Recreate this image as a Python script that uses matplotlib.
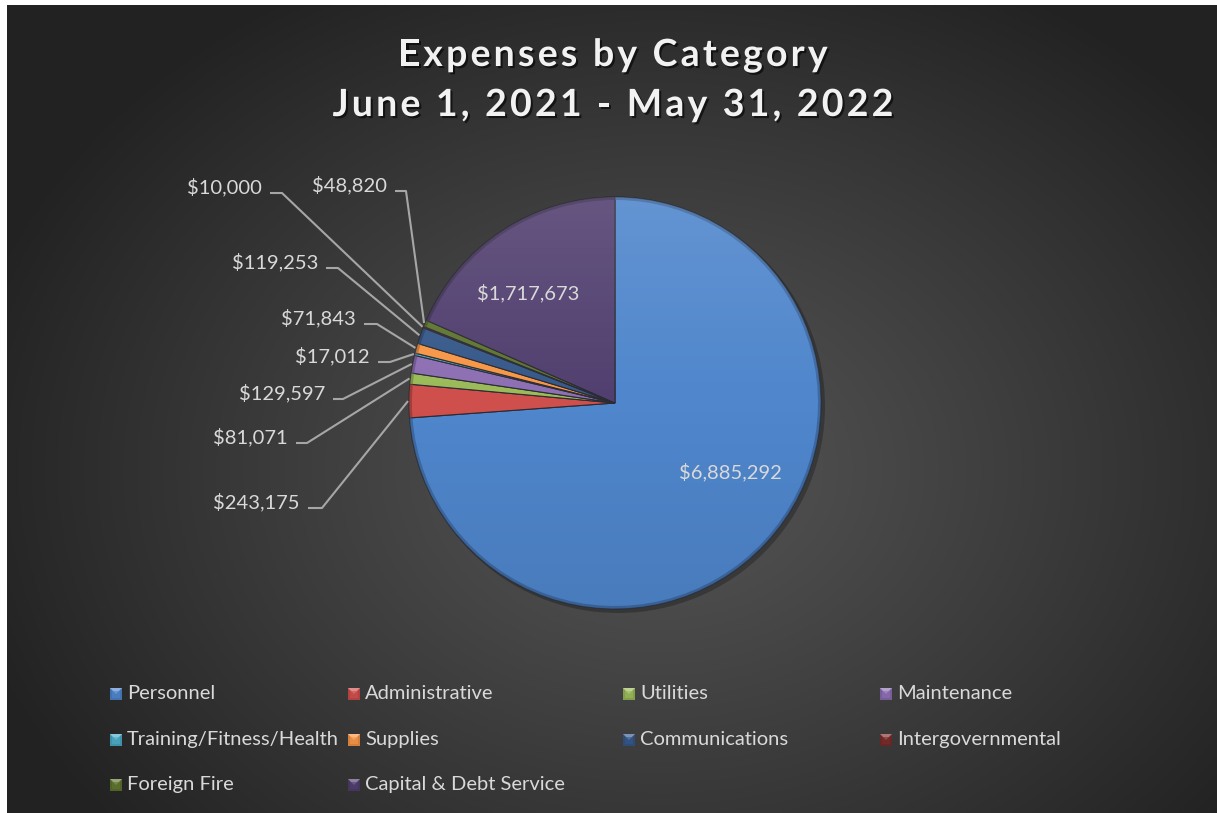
import numpy as np
import matplotlib.pyplot as plt
import matplotlib.patheffects as pe
from matplotlib.patches import Circle, Rectangle, Polygon
from matplotlib.colors import to_rgb

plt.rcParams['font.family'] = ['Lato', 'DejaVu Sans']

W, H = 1217, 813

# expense categories and amounts (USD)
categories = ["Personnel", "Administrative", "Utilities", "Maintenance",
              "Training/Fitness/Health", "Supplies", "Communications",
              "Intergovernmental", "Foreign Fire", "Capital & Debt Service"]
amounts = [6885292, 243175, 81071, 129597, 17012, 71843, 119253, 10000, 48820, 1717673]
colors = ["#4f86cc", "#cf4f4c", "#9bbb59", "#8d6fb3", "#4bacc6", "#f79646",
          "#36598a", "#7a2d2b", "#5f7530", "#513f6f"]

title_lines = ["Expenses by Category", "June 1, 2021 - May 31, 2022"]

# layout, given in pixel coords with y measured from the top
PIE_CX, PIE_CY, PIE_R = 615, 403, 206
# outside labels: index -> (text right edge, leader y, elbow x)
outside = {1: (300, 508, 322), 2: (288, 443, 307), 3: (325, 399, 343),
           4: (370, 362, 390), 5: (356, 324, 377), 6: (318, 268, 338),
           7: (262, 193, 282), 8: (387, 191, 406)}
inside = {0: (730, 472), 9: (528, 293)}
leg_cols = [110, 348, 623, 880]
leg_rows = [694, 740, 785]

TXT = "#d9d9d9"


def Y(y):
    return H - y


def mix(c, other, t):
    a = np.array(to_rgb(c))
    b = np.array(to_rgb(other))
    return tuple(a + (b - a) * t)


fig = plt.figure(figsize=(W / 100, H / 100), dpi=100)
fig.patch.set_facecolor('white')
ax = fig.add_axes([0, 0, 1, 1])
ax.set_xlim(0, W)
ax.set_ylim(0, H)

# dark panel with radial light in the middle
gx, gy = np.meshgrid(np.linspace(7, W, 400), np.linspace(6, H, 300))
d = np.sqrt(((gx - 660) / 720.0) ** 2 + ((gy - 470) / 560.0) ** 2)
d = np.clip(d, 0, 1)
lo, hi = np.array(to_rgb("#222222")), np.array(to_rgb("#555555"))
bg = hi[None, None, :] + (lo - hi)[None, None, :] * (d[..., None] ** 1.1)
ax.imshow(bg, extent=(7, W, Y(H), Y(6)), origin='upper', zorder=0, aspect='auto')

center = (PIE_CX, Y(PIE_CY))

# soft shadow under the pie
ax.add_patch(Circle((PIE_CX + 3, Y(PIE_CY) - 3), PIE_R + 1, color='black', alpha=0.25, zorder=1, lw=0))

wedges, _ = ax.pie(amounts, colors=colors, startangle=90, counterclock=False,
                   center=center, radius=PIE_R,
                   wedgeprops=dict(edgecolor='#2b2b33', linewidth=0.8))
for w in wedges:
    w.set_zorder(2)

# darker bevel along the outer edge
rim = ax.pie(amounts, colors=[mix(c, 'black', 0.35) for c in colors], startangle=90,
             counterclock=False, center=center, radius=PIE_R,
             wedgeprops=dict(width=3, edgecolor='none', linewidth=0, alpha=0.6))[0]
for w in rim:
    w.set_zorder(3)

# light from above across the pie
n = 256
shade = np.zeros((n, 1, 4))
t = np.linspace(0, 1, n)
shade[:, 0, :3] = np.where(t[:, None] < 0.5, 1.0, 0.0)
shade[:, 0, 3] = np.where(t < 0.5, 0.12 * (1 - t / 0.5), 0.08 * (t - 0.5) / 0.5)
im = ax.imshow(shade, extent=(PIE_CX - PIE_R, PIE_CX + PIE_R, Y(PIE_CY) - PIE_R, Y(PIE_CY) + PIE_R),
               origin='upper', zorder=4, aspect='auto')
clip = Circle(center, PIE_R, transform=ax.transData)
im.set_clip_path(clip)

# value labels
for i, (x, y) in inside.items():
    ax.text(x, Y(y), f"${amounts[i]:,}", color=TXT, fontsize=14.5,
            ha='center', va='center', zorder=6)

for i, (xr, ly, ex) in outside.items():
    w = wedges[i]
    mid = np.deg2rad((w.theta1 + w.theta2) / 2)
    px = PIE_CX + (PIE_R + 1) * np.cos(mid)
    py = Y(PIE_CY) + (PIE_R + 1) * np.sin(mid)
    ax.plot([xr + 8, ex, px], [Y(ly), Y(ly), py], color='#a6a6a6', lw=1.5, zorder=5,
            solid_capstyle='butt')
    ax.text(xr, Y(ly - 6), f"${amounts[i]:,}", color=TXT, fontsize=14.5,
            ha='right', va='center', zorder=6)

# title, letter-spaced
renderer = fig.canvas.get_renderer()
tkw = dict(fontsize=27, fontweight='bold')


def text_w(s):
    t = ax.text(0, 0, s, **tkw)
    w = t.get_window_extent(renderer).width
    t.remove()
    return w


space_w = text_w("a a") - text_w("aa")
tracking = 3.2
shadow = [pe.SimplePatchShadow(offset=(1.5, -1.5), shadow_rgbFace='black', alpha=0.6), pe.Normal()]
for line, ly in zip(title_lines, [55, 105]):
    widths = [space_w if ch == ' ' else text_w(ch) for ch in line]
    total = sum(widths) + tracking * (len(line) - 1)
    x = 613 - total / 2
    for ch, cw in zip(line, widths):
        if ch != ' ':
            ax.text(x, Y(ly), ch, color='#f2f2f2', ha='left', va='center', zorder=6,
                    path_effects=shadow, **tkw)
        x += cw + tracking

# legend
for i, name in enumerate(categories):
    x0 = leg_cols[i % 4]
    yc = leg_rows[i // 4]
    s = 12
    c = colors[i]
    ax.add_patch(Rectangle((x0, Y(yc) - s / 2), s, s, facecolor=mix(c, 'black', 0.15),
                           edgecolor='none', zorder=6))
    ax.add_patch(Polygon([(x0, Y(yc) + s / 2), (x0 + s, Y(yc) + s / 2), (x0 + s / 2, Y(yc))],
                         facecolor=mix(c, 'white', 0.35), edgecolor='none', zorder=7))
    ax.add_patch(Rectangle((x0 + 2, Y(yc) - s / 2 + 2), s - 4, s - 5, facecolor=c,
                           edgecolor='none', zorder=7, alpha=0.6))
    ax.text(x0 + s + 5, Y(yc - 1), name, color=TXT, fontsize=14.5, ha='left',
            va='center', zorder=6)

ax.set_xlim(0, W)
ax.set_ylim(0, H)
ax.set_aspect('auto')
ax.axis('off')

fig.savefig("out.png", dpi=100, facecolor=fig.get_facecolor())
